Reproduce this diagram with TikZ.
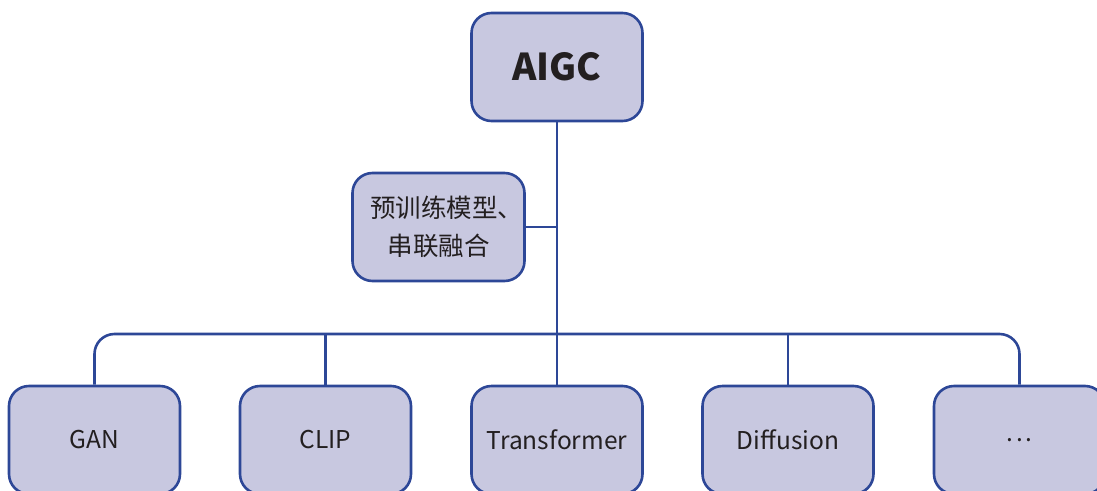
\documentclass[tikz,border=0pt]{standalone}
\usepackage{fontspec}
\setmainfont{Noto Sans CJK SC}
\definecolor{edge}{HTML}{2D4797}
\definecolor{boxfill}{HTML}{C8C8E0}
\definecolor{txt}{HTML}{231F20}
\begin{document}
\begin{tikzpicture}[x=1pt,y=-1pt,
  boxstyle/.style={draw=edge, fill=boxfill, line width=2.6pt, rounded corners=20pt,
    minimum width=171pt, minimum height=108pt, inner sep=0pt, text=txt,
    font=\fontsize{24.5}{38}\selectfont, align=center},
  conn/.style={draw=edge, line width=2.6pt}]
\useasboundingbox (0,0) rectangle (1097,490);
\clip (0,0) rectangle (1097,490);
\node[boxstyle, font=\fontsize{37}{40}\selectfont\bfseries] (aigc) at (557,67) {AIGC};
\node[boxstyle, minimum width=172pt, font=\fontsize{25.5}{38}\selectfont] (mid) at (438.5,227) {\hspace*{16pt}预训练模型、\\串联融合};
\node[boxstyle] (gan) at (94.5,440) {GAN};
\node[boxstyle] (clip) at (325.5,440) {CLIP};
\node[boxstyle] (trans) at (557,440) {Transformer};
\node[boxstyle] (diff) at (788,440) {Diffusion};
\node[boxstyle] (dots) at (1019.5,440) {.\hspace{3pt}.\hspace{3pt}.};
\coordinate (bus) at (557,334);
\draw[conn] (aigc.south) -- (trans.north);
\draw[conn] (mid.east) -- (mid.east -| aigc.south);
\draw[conn, rounded corners=20pt] (gan.north) |- (bus) -| (dots.north);
\draw[conn] (clip.north) -- (clip.north |- bus);
\draw[conn] (diff.north) -- (diff.north |- bus);
\end{tikzpicture}
\end{document}
